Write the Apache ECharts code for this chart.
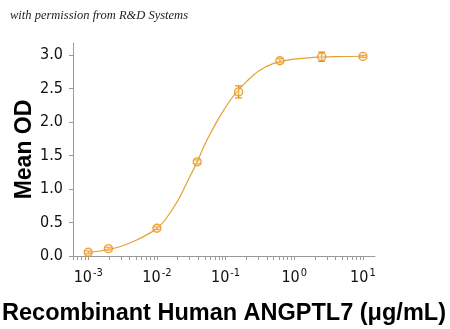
<!DOCTYPE html>
<html>
<head>
<meta charset="utf-8">
<script src="https://cdn.jsdelivr.net/npm/echarts@6/dist/echarts.min.js"></script>
<style>
html,body{margin:0;padding:0;background:#fff;}
#chart{width:450px;height:329px;}
</style>
</head>
<body>
<div id="chart"></div>
<script>
// Measured points (concentration in µg/mL, mean OD, error)
var conc = [0.001, 0.00197, 0.01, 0.0386, 0.155, 0.617, 2.51, 10];
var meanOD = [0.055, 0.11, 0.415, 1.405, 2.45, 2.915, 2.975, 2.98];
var errOD = [0.02, 0.02, 0.02, 0.03, 0.09, 0.03, 0.07, 0.015];

// Fitted curve
var curveX = [0.001, 0.0015, 0.002, 0.003, 0.005, 0.008, 0.01, 0.013, 0.02, 0.03, 0.0386, 0.048, 0.06, 0.075, 0.093, 0.12, 0.155, 0.2, 0.3, 0.5, 0.8, 1.6, 4, 10];
var curveY = [0.055, 0.075, 0.098, 0.145, 0.235, 0.345, 0.415, 0.53, 0.82, 1.18, 1.405, 1.63, 1.83, 2.01, 2.17, 2.34, 2.48, 2.6, 2.76, 2.875, 2.925, 2.958, 2.976, 2.982];

// Axis tick values
var yTicks = [0, 0.5, 1.0, 1.5, 2.0, 2.5, 3.0];
var xMajor = [0.001, 0.01, 0.1, 1, 10];
var xMinor = [0.0006, 0.0007, 0.0008, 0.0009,
  0.002, 0.003, 0.004, 0.005, 0.006, 0.007, 0.008, 0.009,
  0.02, 0.03, 0.04, 0.05, 0.06, 0.07, 0.08, 0.09,
  0.2, 0.3, 0.4, 0.5, 0.6, 0.7, 0.8, 0.9,
  2, 3, 4, 5, 6, 7, 8, 9];

var lineColor = '#E3A033';
var markColor = '#E88E14';
var axisColor = '#9a9a9a';
var tickFont = "'Liberation Sans Narrow','DejaVu Sans Condensed',sans-serif";

var chart = echarts.init(document.getElementById('chart'));

var pts = conc.map(function (c, i) { return [c, meanOD[i], errOD[i]]; });
var curve = curveX.map(function (c, i) { return [c, curveY[i]]; });

chart.setOption({
  animation: false,
  backgroundColor: '#fff',
  graphic: [{
    type: 'text',
    left: 10,
    top: 9,
    style: {
      text: 'with permission from R&D Systems',
      font: "italic 12.5px 'Liberation Serif','DejaVu Serif',serif",
      fill: '#222'
    }
  }],
  grid: { left: 73, right: 75, top: 43, bottom: 73, outerBoundsMode: 'none', containLabel: false },
  xAxis: {
    type: 'log',
    logBase: 10,
    min: 0.0006,
    max: 15,
    name: 'Recombinant Human ANGPTL7 (\u03bcg/mL)',
    nameLocation: 'middle',
    nameMoveOverlap: false,
    nameGap: 46,
    nameTextStyle: {
      fontFamily: "'Liberation Sans',Arial,sans-serif",
      fontWeight: 'bold',
      fontSize: 23.5,
      color: '#000'
    },
    axisLine: { show: true, lineStyle: { color: axisColor, width: 1 } },
    axisTick: {
      show: true, length: 4, inside: false,
      customValues: xMajor.concat(xMinor),
      lineStyle: { color: axisColor }
    },
    splitLine: { show: false },
    axisLabel: {
      customValues: xMajor,
      margin: 12,
      formatter: function (v) {
        var e = Math.round(Math.log(v) / Math.LN10);
        return '{b|10}{s|' + e + '}';
      },
      rich: {
        b: { fontFamily: tickFont, fontSize: 16, color: '#111', verticalAlign: 'bottom', lineHeight: 18 },
        s: { fontFamily: tickFont, fontSize: 11, color: '#111', verticalAlign: 'top', lineHeight: 18, padding: [0, 0, 8, 1] }
      }
    }
  },
  yAxis: {
    type: 'value',
    min: 0,
    max: 3.18,
    name: 'Mean OD',
    nameLocation: 'middle',
    nameMoveOverlap: false,
    nameRotate: 90,
    nameGap: 37,
    nameTextStyle: {
      fontFamily: "'Liberation Sans',Arial,sans-serif",
      fontWeight: 'bold',
      fontSize: 23,
      color: '#000'
    },
    axisLine: { show: true, lineStyle: { color: axisColor, width: 1 } },
    axisTick: { show: true, length: 4, customValues: yTicks, lineStyle: { color: axisColor } },
    splitLine: { show: false },
    axisLabel: {
      customValues: yTicks,
      margin: 10,
      fontFamily: tickFont,
      fontSize: 16,
      color: '#111',
      formatter: function (v) { return v.toFixed(1); }
    }
  },
  series: [
    {
      type: 'line',
      data: curve,
      smooth: 0.3,
      showSymbol: false,
      lineStyle: { color: lineColor, width: 1.2 },
      z: 2
    },
    {
      type: 'custom',
      data: pts,
      z: 3,
      renderItem: function (params, api) {
        var x = api.value(0), y = api.value(1), e = api.value(2);
        var hi = api.coord([x, y + e]);
        var lo = api.coord([x, y - e]);
        var w = 3.5;
        var st = { stroke: markColor, lineWidth: 1.2 };
        return {
          type: 'group',
          children: [
            { type: 'line', shape: { x1: hi[0], y1: hi[1], x2: lo[0], y2: lo[1] }, style: st },
            { type: 'line', shape: { x1: hi[0] - w, y1: hi[1], x2: hi[0] + w, y2: hi[1] }, style: st },
            { type: 'line', shape: { x1: lo[0] - w, y1: lo[1], x2: lo[0] + w, y2: lo[1] }, style: st }
          ]
        };
      }
    },
    {
      type: 'scatter',
      data: pts,
      symbol: 'circle',
      symbolSize: 8,
      itemStyle: { color: 'rgba(252,220,170,0.5)', borderColor: markColor, borderWidth: 1.4 },
      z: 4
    }
  ]
});
</script>
</body>
</html>
